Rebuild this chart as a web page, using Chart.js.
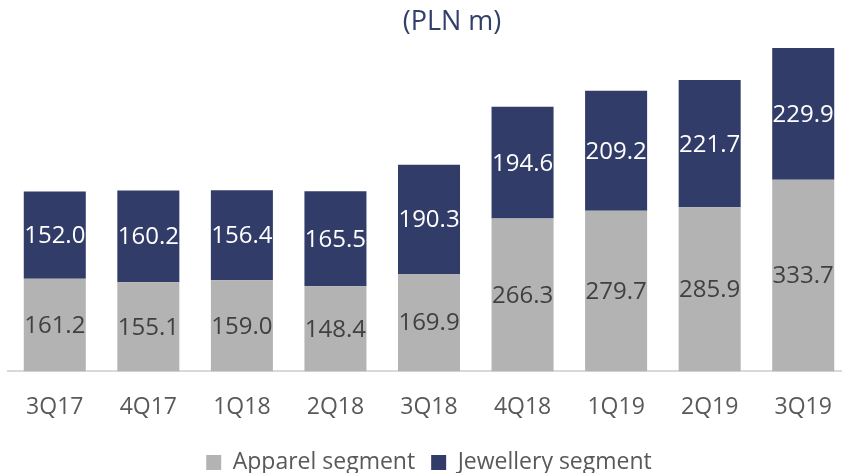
<!DOCTYPE html>
<html>
<head>
<meta charset="utf-8">
<script src="https://cdn.jsdelivr.net/npm/chart.js@4"></script>
<style>
  html, body { margin: 0; padding: 0; overflow: hidden; background: #fff; }
  #wrap { position: absolute; left: 0; top: 0; width: 850px; height: 484px; }
</style>
</head>
<body>
<div id="wrap"><canvas id="myChart"></canvas></div>
<script>
const categories = ["3Q17", "4Q17", "1Q18", "2Q18", "3Q18", "4Q18", "1Q19", "2Q19", "3Q19"];
const apparel = [161.2, 155.1, 159.0, 148.4, 169.9, 266.3, 279.7, 285.9, 333.7];
const jewellery = [152.0, 160.2, 156.4, 165.5, 190.3, 194.6, 209.2, 221.7, 229.9];
const subtitle = "(PLN m)";

const FONT = "'Open Sans', 'Noto Sans', sans-serif";
const GRAY = "#b3b3b3";
const NAVY = "#323c69";

// labels in the middle of every bar segment
const segmentLabels = {
  id: "segmentLabels",
  afterDatasetsDraw(chart) {
    const ctx = chart.ctx;
    ctx.save();
    ctx.font = "24px " + FONT;
    ctx.textAlign = "center";
    ctx.textBaseline = "middle";
    chart.data.datasets.forEach((ds, i) => {
      const meta = chart.getDatasetMeta(i);
      ctx.fillStyle = i === 0 ? "#404040" : "#ffffff";
      meta.data.forEach((bar, j) => {
        const mid = (bar.y + bar.base) / 2;
        ctx.fillText(ds.data[j].toFixed(1), bar.x, mid + 1);
      });
    });
    ctx.restore();
  },
};

// unit line at the top
const unitTitle = {
  id: "unitTitle",
  afterDraw(chart) {
    const ctx = chart.ctx;
    ctx.save();
    ctx.font = "27px " + FONT;
    ctx.fillStyle = "#333f6b";
    ctx.textAlign = "center";
    ctx.textBaseline = "middle";
    ctx.fillText(subtitle, 452, 22);
    ctx.restore();
  },
};

const ctx = document.getElementById("myChart");

new Chart(ctx, {
  type: "bar",
  plugins: [segmentLabels, unitTitle],
  data: {
    labels: categories,
    datasets: [
      {
        label: "Apparel segment",
        data: apparel,
        backgroundColor: GRAY,
        barPercentage: 0.663,
        categoryPercentage: 1,
      },
      {
        label: "Jewellery segment",
        data: jewellery,
        backgroundColor: NAVY,
        barPercentage: 0.663,
        categoryPercentage: 1,
      },
    ],
  },
  options: {
    responsive: true,
    maintainAspectRatio: false,
    animation: false,
    layout: {
      padding: { left: 8, right: 0, top: 27, bottom: 0 },
    },
    plugins: {
      legend: {
        position: "bottom",
        labels: {
          font: { family: FONT, size: 23 },
          color: "#595959",
          boxWidth: 15,
          boxHeight: 15,
          padding: 16,
        },
      },
      tooltip: { enabled: false },
    },
    scales: {
      x: {
        stacked: true,
        grid: { display: false },
        border: { display: true, color: "#d9d9d9", width: 2 },
        ticks: {
          font: { family: FONT, size: 23 },
          color: "#595959",
          padding: 14,
        },
      },
      y: {
        stacked: true,
        display: false,
        min: 0,
        max: 600,
      },
    },
  },
});
</script>
</body>
</html>
